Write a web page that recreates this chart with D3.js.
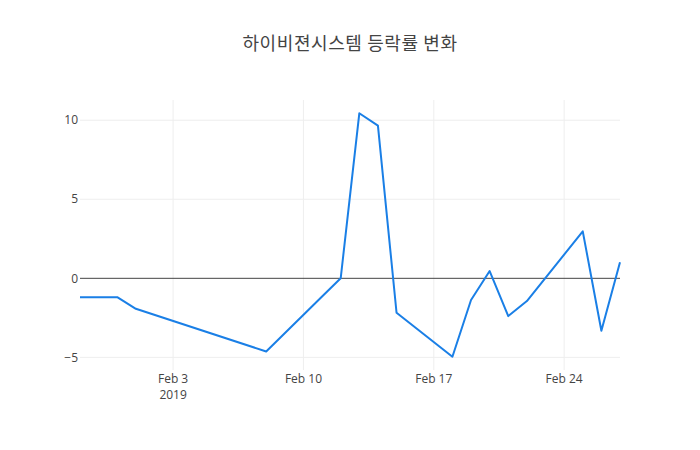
<!DOCTYPE html>
<html>
<head>
<meta charset="utf-8">
<script src="https://cdn.jsdelivr.net/npm/d3@7"></script>
<style>
body { margin: 0; background: #fff; }
svg { font-family: "Open Sans", "Noto Sans CJK KR", sans-serif; }
</style>
</head>
<body>
<svg id="chart" width="700" height="450"></svg>
<script>
const dates = ["2019-01-29","2019-01-30","2019-01-31","2019-02-01","2019-02-08","2019-02-11","2019-02-12","2019-02-13","2019-02-14","2019-02-15","2019-02-18","2019-02-19","2019-02-20","2019-02-21","2019-02-22","2019-02-25","2019-02-26","2019-02-27"];
const changes = [-1.19,-1.19,-1.19,-1.93,-4.63,-1.15,0.0,10.44,9.66,-2.18,-4.96,-1.37,0.46,-2.39,-1.44,2.97,-3.32,1.01];
const yTicks = [-5, 0, 5, 10];
const xTickDates = ["2019-02-03","2019-02-10","2019-02-17","2019-02-24"];
const xTickLabels = [["Feb 3","2019"],["Feb 10"],["Feb 17"],["Feb 24"]];
const title = "하이비젼시스템 등락률 변화";

const parse = d3.timeParse("%Y-%m-%d");
const data = dates.map((d, i) => ({ date: parse(d), value: changes[i] }));

const W = 700, H = 450, m = { l: 80, r: 80, t: 100, b: 80 };
const svg = d3.select("#chart");

const x = d3.scaleTime()
  .domain(d3.extent(data, d => d.date))
  .range([m.l, W - m.r]);
const y = d3.scaleLinear()
  .domain([-5.8, 11.28])
  .range([H - m.b, m.t]);

// gridlines
const gx = svg.append("g");
gx.selectAll("line.v").data(xTickDates.map(parse)).enter().append("line")
  .attr("x1", d => x(d)).attr("x2", d => x(d))
  .attr("y1", m.t).attr("y2", H - m.b)
  .attr("stroke", "#eee").attr("stroke-width", 1);
gx.selectAll("line.h").data(yTicks.filter(t => t !== 0)).enter().append("line")
  .attr("x1", m.l).attr("x2", W - m.r)
  .attr("y1", d => y(d)).attr("y2", d => y(d))
  .attr("stroke", "#eee").attr("stroke-width", 1);

// zero line
svg.append("line")
  .attr("x1", m.l).attr("x2", W - m.r)
  .attr("y1", y(0)).attr("y2", y(0))
  .attr("stroke", "#444").attr("stroke-width", 1);

// y tick labels
svg.append("g").selectAll("text").data(yTicks).enter().append("text")
  .attr("x", m.l - 2).attr("y", d => y(d)).attr("dy", "0.35em")
  .attr("text-anchor", "end")
  .attr("font-size", 12).attr("fill", "#444")
  .text(d => d < 0 ? "\u2212" + Math.abs(d) : d);

// x tick labels
const xt = svg.append("g").selectAll("text").data(xTickDates).enter().append("text")
  .attr("x", d => x(parse(d)))
  .attr("y", H - m.b + 13)
  .attr("text-anchor", "middle")
  .attr("font-size", 12).attr("fill", "#444");
xt.each(function(d, i) {
  const t = d3.select(this);
  xTickLabels[i].forEach((s, j) => {
    t.append("tspan").attr("x", x(parse(d))).attr("dy", j === 0 ? 0 : 16).text(s);
  });
});

// line
const line = d3.line().x(d => x(d.date)).y(d => y(d.value));
svg.append("path").datum(data)
  .attr("d", line)
  .attr("fill", "none")
  .attr("stroke", "#1a7fe6")
  .attr("stroke-width", 2)
  .attr("stroke-linejoin", "round");

// title
svg.append("text")
  .attr("x", W / 2).attr("y", 50)
  .attr("text-anchor", "middle")
  .attr("font-size", 18).attr("fill", "#444")
  .attr("letter-spacing", 0.6)
  .attr("font-family", "'Noto Sans CJK KR', 'Open Sans', sans-serif")
  .text(title);
</script>
</body>
</html>
